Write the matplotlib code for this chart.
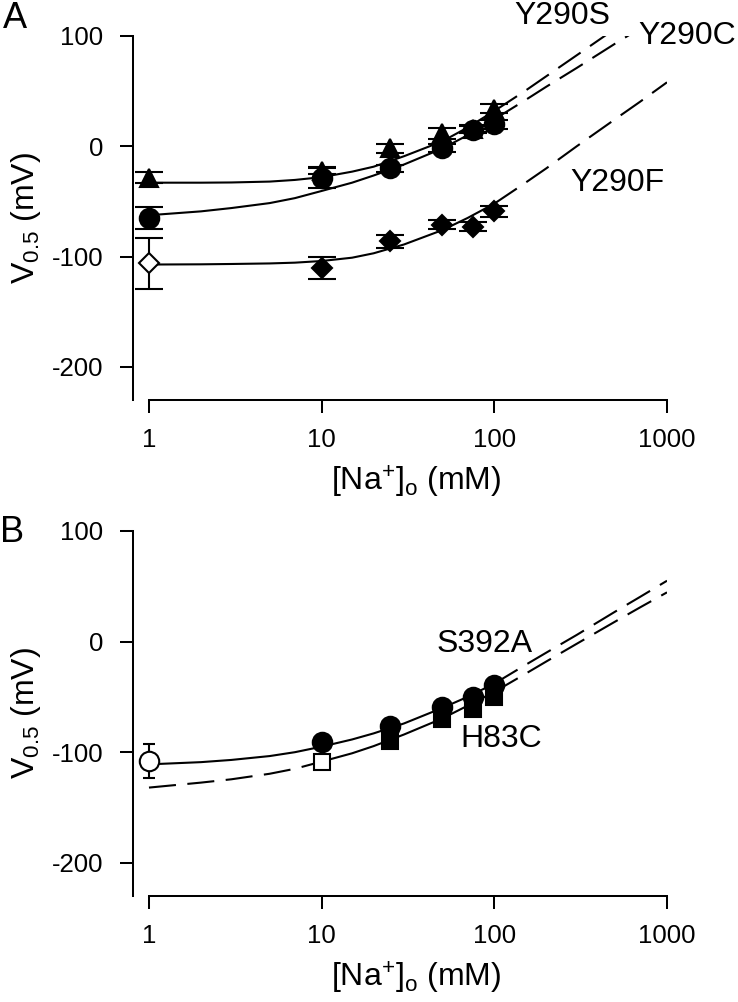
import numpy as np
import matplotlib
matplotlib.use("Agg")
import matplotlib.pyplot as plt
from matplotlib.ticker import NullLocator

plt.rcParams["font.family"] = ["Liberation Sans", "DejaVu Sans"]
plt.rcParams["mathtext.default"] = "regular"
plt.rcParams["axes.unicode_minus"] = False

# ---------------- panel A: measured points
na_a = [1, 10, 25, 50, 75, 100]
y290s_v = [-28.5, -22, -2, 12, 16, 34]
y290s_err = [5, 3, 4, 5, 3, 4]
y290c_v = [-65, -29, -20, -1.5, 15, 20]
y290c_err = [10, 9, 3, 4, 3, 4]
na_f = [10, 25, 50, 75, 100]
y290f_v = [-110, -86, -71, -73, -59]
y290f_err = [10, 6, 4, 4, 5]
na_f_open = [1]
y290f_open_v = [-106]
y290f_open_err = [23]

# ---------------- panel B: measured points
na_s_open = [1]
s392a_open_v = [-108]
s392a_open_err = [15]
na_s = [10, 25, 50, 75, 100]
s392a_v = [-91, -76.5, -59.5, -50.5, -39]
na_h_open = [10]
h83c_open_v = [-109]
na_h = [25, 50, 75, 100]
h83c_v = [-90, -70, -61, -50]

# ---------------- fitted curves
na_fit = [1, 2, 3, 5, 7, 10, 15, 20, 30, 50, 70, 100, 150, 200, 300, 500, 700, 1000]
fit_y290s = [-33, -33, -32.8, -32, -30.5, -28, -23, -18.5, -9, 4.5, 17, 32, 50, 63.5, 82.5, 106.5, 122, 139]
fit_y290c = [-62.5, -59, -56, -51.5, -47, -40.5, -33, -26.5, -16.5, -2, 10, 24.5, 41.5, 54, 71, 93, 107, 122]
fit_y290f = [-107.2, -107, -106.7, -106.2, -105.5, -104, -101, -97, -89, -76, -65, -52, -33.5, -20, 0, 24.5, 40.5, 58]
fit_s392a = [-111, -109, -107, -103.5, -100, -95, -88.5, -83, -74, -60, -50, -38, -21.5, -10, 6, 27, 40.5, 55]
fit_h83c = [-132, -127.5, -124.5, -119.5, -115, -108.5, -101, -94.5, -84, -69.5, -58, -45.5, -29.5, -18, -2, 18, 31, 44.5]

LW = 1.5
DASH = (13, 5.5)
TICK_FS = 18.5
LAB_FS = 23


def draw_fit(ax, values, solid_from=1, solid_to=100):
    x = np.array(na_fit, dtype=float)
    y = np.array(values, dtype=float)
    solid = (x >= solid_from) & (x <= solid_to)
    ax.plot(x[solid], y[solid], color="black", lw=LW, zorder=2)
    hi = x >= solid_to
    ax.plot(x[hi], y[hi], color="black", lw=LW, dashes=DASH, zorder=2)
    lo = x <= solid_from
    if lo.sum() > 1:
        ax.plot(x[lo], y[lo], color="black", lw=LW, dashes=DASH, zorder=2)


def points(ax, x, y, marker, ms, filled=True, err=None, cap=10):
    if err is not None:
        ax.errorbar(x, y, yerr=err, fmt="none", ecolor="black", elinewidth=LW,
                    capsize=cap, capthick=LW, zorder=3, clip_on=False)
    ax.plot(x, y, linestyle="none", marker=marker, ms=ms,
            mfc="black" if filled else "white", mec="black", mew=LW,
            zorder=4, clip_on=False)


def style_axes(ax):
    ax.set_xscale("log")
    ax.set_xlim(0.808, 1000)
    ax.set_ylim(-230, 100)
    ax.set_xticks([1, 10, 100, 1000])
    ax.set_xticklabels(["1", "10", "100", "1000"])
    ax.xaxis.set_minor_locator(NullLocator())
    ax.set_yticks([100, 0, -100, -200])
    ax.spines["top"].set_visible(False)
    ax.spines["right"].set_visible(False)
    ax.spines["bottom"].set_bounds(1, 1000)
    for s in ("left", "bottom"):
        ax.spines[s].set_linewidth(1.45)
    ax.tick_params(axis="both", direction="out", length=9.4, width=1.45,
                   labelsize=TICK_FS)
    ax.tick_params(axis="y", pad=12)
    ax.tick_params(axis="x", pad=10.5)
    ax.set_xlabel("[Na$^{+}$]$_{o}$ (mM)", fontsize=LAB_FS)
    ax.set_ylabel("V$_{0.5}$ (mV)", fontsize=LAB_FS)
    ax.xaxis.set_label_coords(0.53, -0.175)
    ax.yaxis.set_label_coords(-0.168, 0.5)


fig = plt.figure(figsize=(7.38, 10.02), dpi=100)
ax_a = fig.add_axes([0.1802, 0.6008, 0.7236, 0.3633])
ax_b = fig.add_axes([0.1802, 0.1058, 0.7236, 0.3643])

# panel A
draw_fit(ax_a, fit_y290s)
draw_fit(ax_a, fit_y290c)
draw_fit(ax_a, fit_y290f)
points(ax_a, na_a, y290s_v, "^", 13, err=y290s_err)
points(ax_a, na_a, y290c_v, "o", 14, err=y290c_err)
points(ax_a, na_f, y290f_v, "D", 10.5, err=y290f_err)
points(ax_a, na_f_open, y290f_open_v, "D", 10.5, filled=False, err=y290f_open_err)
ax_a.text(247, 118, "Y290S", fontsize=LAB_FS, ha="center", va="center")
ax_a.text(1306, 100, "Y290C", fontsize=LAB_FS, ha="center", va="center")
ax_a.text(514, -33.5, "Y290F", fontsize=LAB_FS, ha="center", va="center")
style_axes(ax_a)

# panel B
draw_fit(ax_b, fit_s392a)
draw_fit(ax_b, fit_h83c, solid_from=10)
points(ax_b, na_h, h83c_v, "s", 12)
points(ax_b, na_h_open, h83c_open_v, "s", 12, filled=False)
points(ax_b, na_s, s392a_v, "o", 14)
points(ax_b, na_s_open, s392a_open_v, "o", 14, filled=False, err=s392a_open_err, cap=4.5)
ax_b.text(87.5, -2, "S392A", fontsize=LAB_FS, ha="center", va="center")
ax_b.text(110, -88, "H83C", fontsize=LAB_FS, ha="center", va="center")
style_axes(ax_b)

fig.text(15 / 738, 1 - 18 / 1002, "A", fontsize=26, ha="center", va="center")
fig.text(12 / 738, 1 - 533 / 1002, "B", fontsize=26, ha="center", va="center")

fig.savefig("out.png", dpi=100, facecolor="white")
